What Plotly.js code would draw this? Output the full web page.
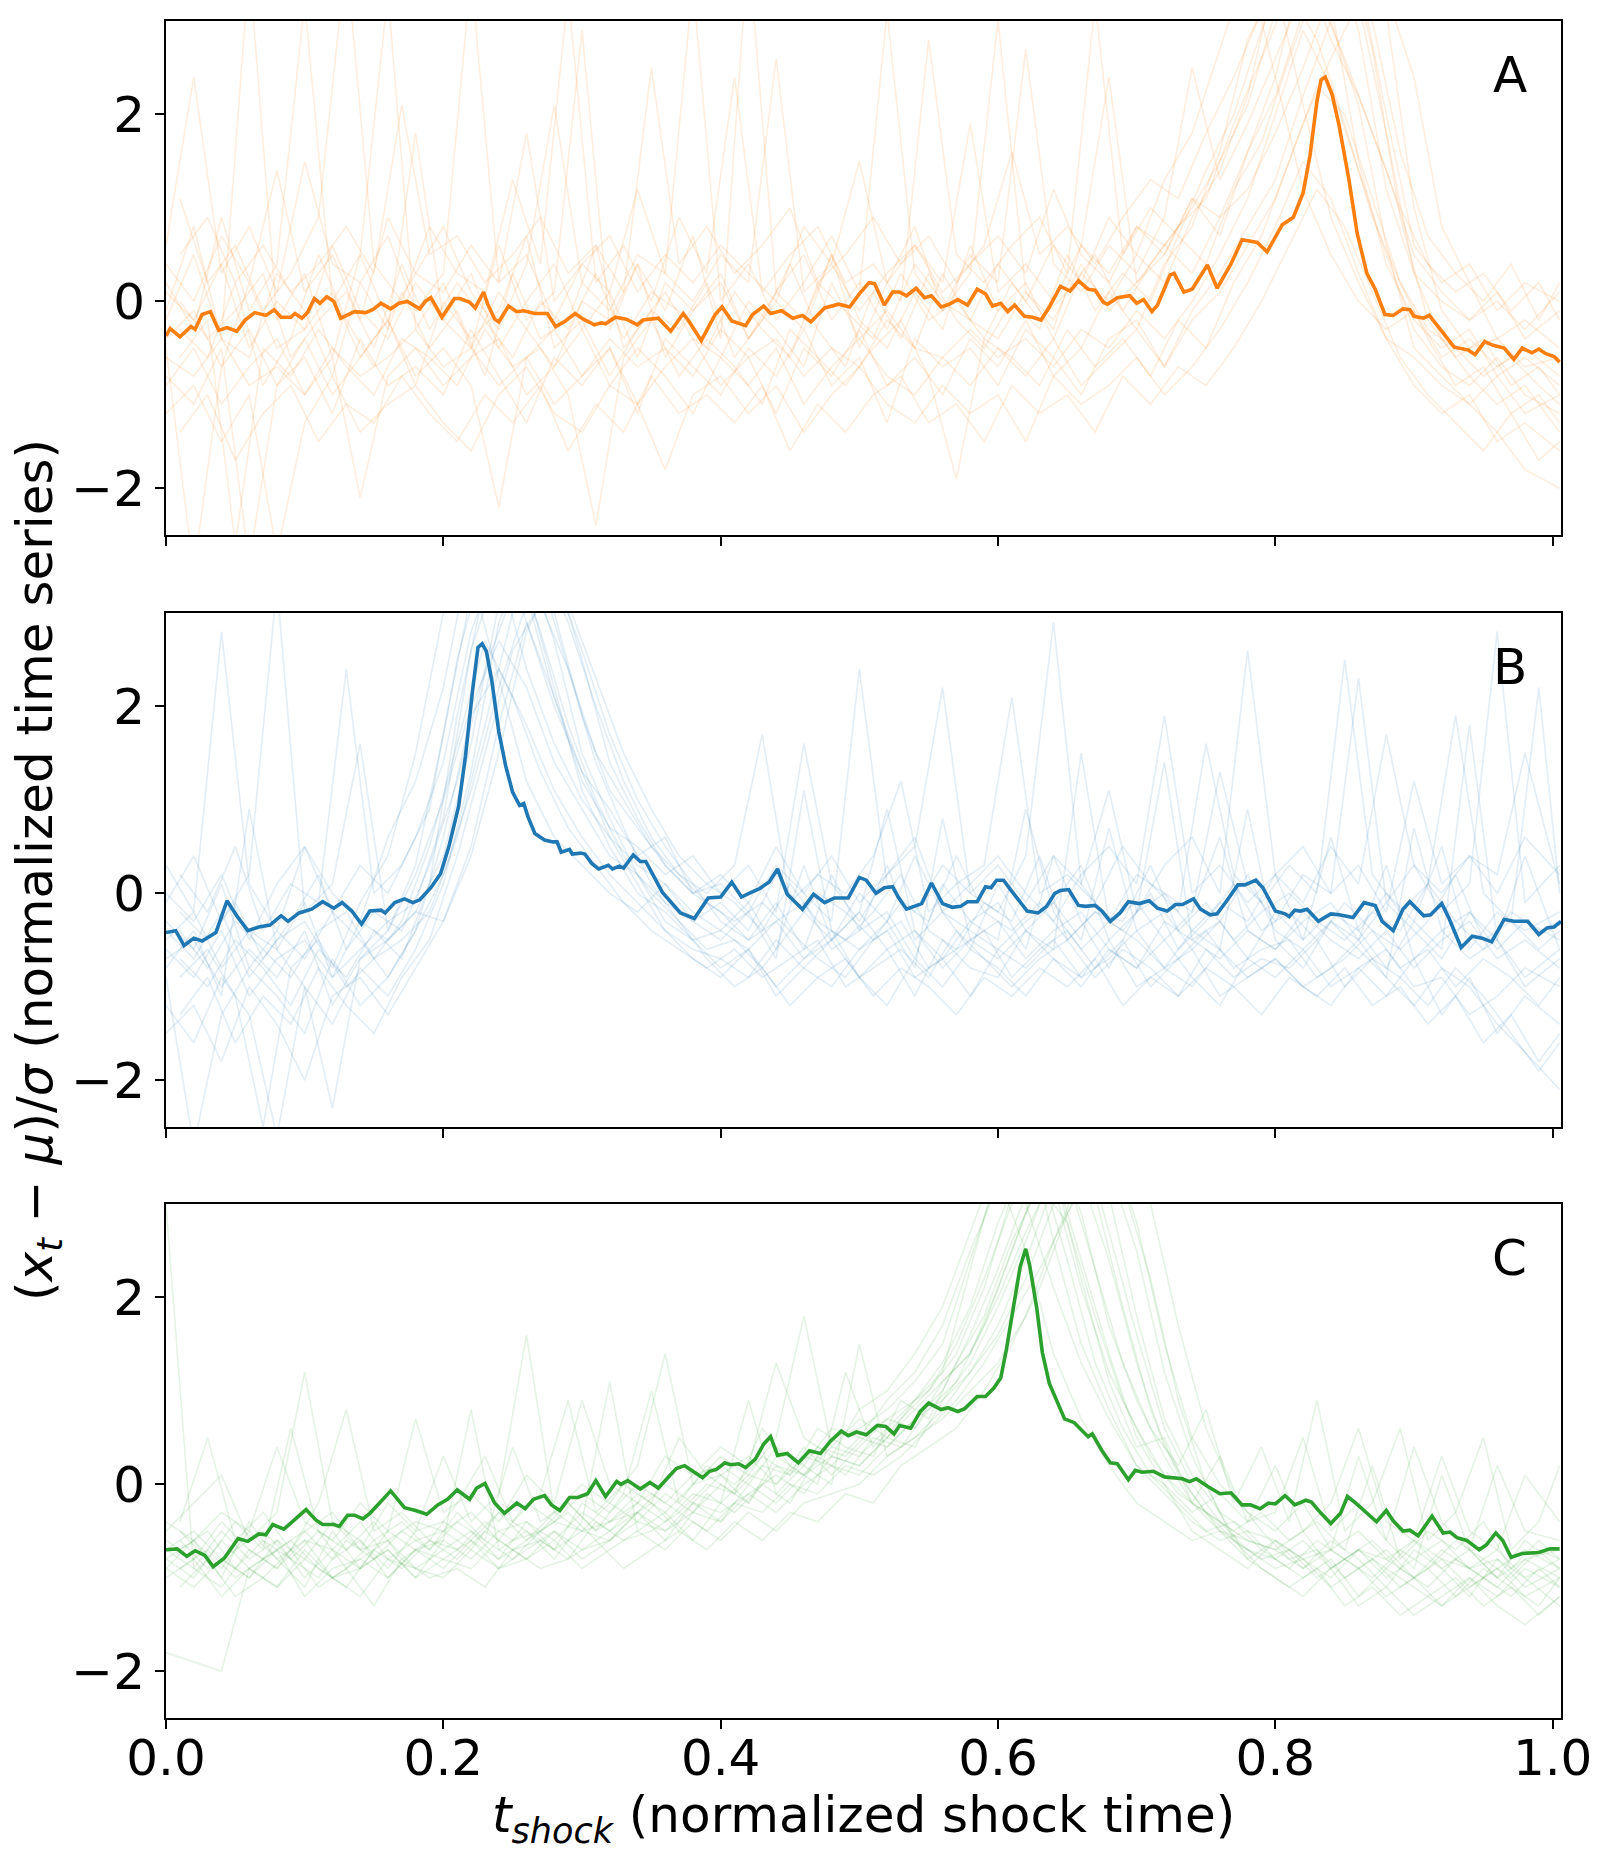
<!DOCTYPE html>
<html><head><meta charset="utf-8">
<script src="https://cdn.plot.ly/plotly-3.0.1.min.js"></script>
<style>html,body{margin:0;padding:0;background:#fff;} #chart{width:1610px;height:1860px;}</style>
</head><body><div id="chart"></div>
<script>
// ---------- data ----------
const tGrid = [0,0.02,0.04,0.06,0.08,0.1,0.12,0.14,0.16,0.18,0.2,0.22,0.24,0.26,0.28,0.3,0.32,0.34,0.36,0.38,0.4,0.42,0.44,0.46,0.48,0.5,0.52,0.54,0.56,0.58,0.6,0.62,0.64,0.66,0.68,0.7,0.72,0.74,0.76,0.78,0.8,0.82,0.84,0.86,0.88,0.9,0.92,0.94,0.96,0.98,1.005];
const tGrid2 = [0.01,0.03,0.05,0.07,0.09,0.11,0.13,0.15,0.17,0.19,0.21,0.23,0.25,0.27,0.29,0.31,0.33,0.35,0.37,0.39,0.41,0.43,0.45,0.47,0.49,0.51,0.53,0.55,0.57,0.59,0.61,0.63,0.65,0.67,0.69,0.71,0.73,0.75,0.77,0.79,0.81,0.83,0.85,0.87,0.89,0.91,0.93,0.95,0.97,0.99,1.005];
const xTickVals = [0,0.2,0.4,0.6,0.8,1.0];
const xTickText = ['0.0','0.2','0.4','0.6','0.8','1.0'];
const yTickVals = [-2,0,2];
const yTickText = ['\u22122','0','2'];
const panelLabels = ['A','B','C'];

// faint individual series, panel A (orange), sampled on tGrid
const fadedA = [
 [-0.2,0.5,-0.4,-0.6,0.3,-0.1,-0.8,0.2,-0.3,1.8, -0.2,-0.5,0.1,-0.3,-0.7,0.0,-0.2,0.4,-0.6,-0.1, 0.2,-0.4,0.0,-0.3,0.5,-0.2,-0.5,0.1,-0.3,0.6, -0.1,0.2,-0.4,0.3,0.0,0.5,0.2,0.9,1.4,2.2, 3.5,4.0,3.2,1.5,0.4,-0.2,-0.5,-0.3,-0.8,-0.6, -0.9],
 [-0.8,-1.1,-0.5,-2.8,-0.9,-0.6,-1.2,-0.4,-0.9,-0.7, -1.0,-0.3,-0.8,-1.3,-0.6,-0.9,-0.5,-1.1,-0.7,-0.4, -0.9,-0.6,-1.2,-0.5,-0.8,-0.3,-0.9,-0.6,-1.0,-0.4, -0.7,-0.2,-0.8,-0.5,0.1,-0.3,0.4,0.8,1.6,2.8, 3.4,2.1,0.9,0.2,-0.4,-0.6,-0.9,-1.1,-0.8,-1.2, -1.0],
 [0.6,2.4,0.3,0.8,0.1,1.5,0.4,0.2,0.7,-0.1, 0.3,3.5,0.2,0.5,-0.2,0.4,0.1,1.2,0.3,0.0, 0.5,0.2,2.6,0.1,0.4,-0.1,0.3,0.6,0.2,1.9, 0.1,0.4,0.0,0.6,0.3,0.8,0.5,1.1,0.9,1.6, 2.4,3.6,3.8,2.9,1.2,0.3,0.0,-0.2,0.1,-0.4, -0.1],
 [-0.4,-0.1,-0.7,0.2,-0.5,-0.3,0.1,-0.6,-0.2,-0.9, 0.0,-0.4,-0.1,0.7,-0.5,-0.2,-0.8,-0.3,0.1,-0.4, -0.6,0.0,-0.3,-0.7,0.2,-0.4,-0.1,-0.5,0.3,-0.2, -0.4,0.1,-0.2,0.4,-0.1,0.2,0.6,0.3,0.9,1.2, 1.8,2.5,3.3,3.9,3.1,1.0,-0.1,-0.5,-0.4,-0.7, -0.6],
 [-1.2,-0.9,-1.5,-1.0,-2.7,-1.3,-0.8,-1.4,-1.1,-0.9, -1.3,-1.6,-1.0,-0.7,-1.2,-1.4,-0.9,-1.1,-1.8,-1.0, -0.8,-1.2,-0.9,-1.4,-1.0,-0.7,-1.1,-1.3,-0.9,-1.2, -1.0,-1.5,-0.8,-1.1,-0.9,-0.6,-1.0,-0.7,-0.3,0.2, 0.8,1.5,1.1,0.3,-0.4,-0.9,-1.2,-1.0,-1.5,-1.3, -1.6],
 [0.2,-0.3,0.9,-0.1,0.4,3.2,0.0,0.5,-0.2,0.3, 0.8,0.1,-0.3,0.4,2.1,0.2,-0.1,0.5,0.3,3.4, 0.0,0.4,-0.2,0.2,0.7,0.1,3.1,0.3,-0.1,0.5, 0.2,2.7,0.4,0.1,0.6,0.3,0.9,2.5,1.3,1.9, 2.6,3.3,4.2,3.5,2.0,0.6,0.2,0.4,-0.1,0.2, 0.0],
 [-0.6,-0.8,-0.4,-0.9,-0.7,-1.0,-0.5,-0.8,-0.6,-0.3, -0.7,-0.5,-0.9,-0.6,-1.1,-0.8,-0.4,-0.7,-0.5,-0.8, -0.3,-0.6,-0.4,-0.8,-0.5,-0.7,-0.2,-0.5,-0.6,-0.3, -0.6,-0.4,-0.7,-0.3,-0.5,-0.1,-0.4,0.0,0.5,1.1, 2.0,2.9,2.3,1.4,0.5,-0.3,-0.7,-0.9,-0.6,-1.0, -1.2],
 [0.1,-0.2,0.4,-0.5,0.0,-0.3,0.6,-0.1,-0.4,0.2, -0.2,0.3,-0.5,0.0,0.4,-0.3,0.1,-0.6,0.2,-0.1, 0.3,-0.4,0.1,0.5,-0.2,0.2,-0.3,0.4,0.0,-0.2, 0.4,0.0,0.6,0.2,0.9,0.5,1.3,1.8,2.7,3.6, 2.4,1.2,0.5,0.0,-0.3,-0.1,-0.6,-0.4,-0.7,-0.5, -0.8],
 [-0.5,-2.9,-0.7,-0.3,-0.9,-0.4,-1.0,-0.6,-0.2,-0.8, -0.5,-0.9,-2.2,-0.6,-0.3,-0.8,-0.5,-1.2,-0.4,-0.7, -1.0,-0.5,-0.8,-0.3,-0.9,-0.6,-1.3,-0.4,-0.7,-0.5, -0.9,-0.3,-0.6,-1.0,-0.4,-0.2,-0.7,-0.1,0.3,0.8, 1.3,2.2,3.0,2.1,0.6,-0.5,-0.8,-1.1,-1.4,-1.8, -2.0],
 [0.4,0.0,0.7,0.2,1.4,0.1,0.5,-0.2,0.9,0.3, 0.1,0.6,0.2,1.8,0.0,0.4,0.7,0.1,0.5,0.2, 0.6,0.3,0.0,0.8,0.4,1.5,0.2,0.6,0.1,0.4, 0.7,0.3,1.2,0.5,0.2,0.8,0.6,1.0,1.5,2.1, 3.1,3.7,2.8,2.2,1.4,0.5,0.1,-0.2,0.0,-0.3, 0.1],
 [-0.9,-0.5,-1.1,-0.7,-0.4,-1.0,-0.6,-2.1,-0.8,-0.5, -0.9,-0.6,-0.4,-1.0,-0.7,-0.3,-0.9,-0.5,-0.8,-1.2, -0.6,-0.9,-0.5,-1.1,-0.7,-0.4,-0.8,-1.0,-0.6,-0.9, -0.5,-0.8,-0.4,-0.9,-0.6,-0.3,-0.7,-0.2,0.1,0.6, 1.1,1.9,2.6,3.2,1.8,0.3,-0.4,-0.8,-1.1,-0.9, -1.4],
 [-0.1,0.8,-0.4,3.6,-0.2,0.3,-0.6,0.5,3.3,-0.3, 0.2,-0.5,0.6,-0.2,0.1,2.9,-0.3,0.4,-0.1,0.7, -0.4,3.8,0.1,-0.2,0.5,-0.5,0.2,0.8,-0.1,0.3, 3.0,0.1,-0.3,0.6,2.4,0.2,0.5,1.1,0.7,1.6, 2.2,3.1,3.5,4.1,3.3,2.4,0.8,0.2,-0.4,-0.2, -0.5]
];
// panel A, more faint series sampled on tGrid2
const fadedA2 = [
 [-0.3,-0.6,0.2,-0.9,-0.4,0.5,-0.2,-0.7,0.1,-0.5, -0.1,-0.8,0.3,-0.4,-0.2,0.6,-0.5,-0.1,-0.3,0.2, -0.6,-0.2,0.4,-0.3,-0.7,0.1,-0.4,0.3,-0.2,-0.5, 0.0,-0.3,0.5,-0.1,0.3,0.0,0.7,0.4,1.2,1.7, 2.6,3.4,3.9,2.7,0.9,-0.2,-0.6,-0.4,-0.9,-0.7, -1.0],
 [1.1,0.2,0.6,-0.1,0.3,0.9,3.7,0.4,0.0,0.8, 0.3,0.1,1.3,0.4,3.3,0.2,0.6,0.0,0.9,0.3, 2.4,0.1,0.5,0.8,0.2,0.4,0.0,2.8,0.5,0.2, 0.6,0.9,0.3,3.2,0.5,1.0,0.7,1.4,2.0,2.9, 3.6,4.2,3.8,3.0,1.6,0.7,0.3,0.0,0.4,-0.2, 0.2],
 [-1.4,-1.0,-1.7,-1.2,-0.9,-1.5,-1.1,-1.3,-0.8,-1.2, -1.5,-1.0,-1.3,-0.9,-1.6,-1.1,-1.4,-0.8,-1.2,-1.0, -1.3,-0.9,-1.6,-1.1,-1.4,-1.0,-0.8,-1.3,-1.1,-1.5, -0.9,-1.2,-1.0,-1.4,-0.8,-1.1,-0.7,-0.9,-0.5,0.0, 0.6,1.2,0.8,0.1,-0.6,-1.0,-1.3,-1.6,-1.2,-1.7, -1.5],
 [0.0,-0.4,-0.1,0.3,-0.6,-0.2,0.1,-0.5,0.4,-0.3, 0.2,-0.2,-0.6,0.0,-0.3,0.3,-0.4,0.1,-0.1,-0.5, 0.1,-0.3,-0.6,0.2,-0.1,-0.4,0.3,-0.2,0.0,-0.4, 0.2,-0.2,0.1,0.5,-0.1,0.4,0.8,1.1,1.9,2.6, 3.3,2.8,1.9,0.9,0.2,-0.3,-0.5,-0.8,-0.6,-0.9, -1.1],
 [-0.6,-0.2,-2.6,-0.5,-0.8,-0.3,-0.7,-1.0,-0.4,-0.6, -0.9,-0.3,-0.7,-0.5,-1.0,-2.4,-0.6,-0.2,-0.8,-0.4, -0.7,-1.1,-0.3,-0.6,-0.9,-0.5,-0.2,-0.8,-1.9,-0.4, -0.6,-0.9,-0.3,-0.7,-0.4,-0.8,-0.2,-0.5,0.2,0.7, 1.5,2.3,2.0,1.1,0.2,-0.4,-0.9,-0.7,-1.2,-1.0, -1.3],
 [0.5,0.9,0.2,0.6,0.1,0.4,0.8,0.3,2.1,0.5, 0.7,0.2,0.5,0.9,0.3,0.6,0.1,2.5,0.4,0.8, 0.3,0.6,1.0,0.2,0.5,0.9,0.4,0.7,0.2,0.6, 1.6,0.5,0.8,0.4,0.9,1.3,1.1,1.8,2.4,3.1, 3.8,3.3,2.6,1.8,1.0,0.4,0.1,0.3,-0.1,0.2, -0.2]
];

// faint individual series, panel B (blue)
const fadedB = [
 [-0.6,-0.9,-0.4,-1.1,-0.7,-0.5,-0.9,-0.6,-0.3,-0.1, 0.8,2.6,3.5,2.4,1.6,1.0,0.6,0.3,0.1,-0.2, -0.4,-0.1,-0.6,0.3,-0.5,-0.2,0.9,-0.4,-0.7,-0.3, -0.1,-0.6,0.4,-0.3,-0.8,-0.2,1.4,-0.5,-0.3,-0.7, -0.2,-0.5,0.6,-0.4,-0.8,-0.3,-0.6,1.8,-0.5,-0.9, -0.6],
 [-1.2,-1.6,-0.9,-1.3,-2.6,-1.0,-1.4,-0.8,-1.1,-0.6, 0.1,1.3,2.9,3.6,2.7,1.5,0.8,0.2,-0.3,-0.5, -0.8,-0.6,-1.0,-0.7,-0.4,-0.9,-0.6,-1.1,-0.5,-0.8, -0.9,-0.4,-0.7,-1.0,-0.6,-0.8,-0.5,-0.9,-1.2,-0.7, -0.9,-0.6,-1.0,-0.8,-1.1,-0.7,-1.3,-0.9,-1.5,-1.1, -1.4],
 [0.3,-0.2,2.8,0.1,-0.4,0.5,0.0,-0.3,0.6,1.2, 2.2,3.7,4.0,3.2,2.1,1.2,0.7,0.5,0.2,0.4, 0.0,0.3,-0.2,1.6,0.1,-0.3,0.2,0.5,2.2,0.0, 0.3,-0.1,0.4,0.1,1.1,-0.2,0.3,0.6,0.0,2.6, 0.2,-0.1,0.5,0.1,1.7,0.3,0.0,0.4,0.2,1.5, 0.1],
 [-0.5,-0.2,-0.8,-0.4,-0.6,-0.1,-0.9,-0.3,-0.5,-0.2, -0.3,0.4,1.5,2.8,3.4,2.6,1.7,1.0,0.5,0.1, -0.3,-0.5,-0.1,-0.6,0.2,-0.4,-0.2,-0.7,0.1,-0.3, -0.5,0.9,-0.2,-0.6,-0.3,-0.1,-0.5,-0.2,0.6,-0.4, -0.6,-0.3,-0.1,-0.5,0.3,-0.7,-0.4,-0.2,-0.6,-0.3, -0.5],
 [-0.9,-2.7,-1.3,-0.8,-1.1,-1.5,-0.7,-1.2,-0.9,-0.4, 0.6,1.9,2.4,1.8,1.1,0.6,0.2,-0.1,-0.4,-0.6, -0.7,-0.9,-0.5,-0.8,-1.0,-0.6,-0.4,-0.9,-0.7,-1.1, -0.6,-0.8,-0.5,-0.9,-0.7,-0.4,-0.8,-1.0,-0.6,-0.9, -0.7,-1.0,-0.8,-0.5,-0.9,-1.2,-0.8,-1.0,-1.4,-1.7, -2.1],
 [-0.1,0.4,-0.3,0.2,3.3,-0.2,0.1,1.6,-0.4,0.3, 1.7,3.2,3.8,2.9,2.0,1.3,0.9,0.4,0.6,0.0, 0.2,-0.1,0.5,0.0,-0.3,2.4,0.1,-0.2,0.3,0.0, -0.2,0.4,2.9,0.1,-0.3,0.2,0.0,-0.2,1.3,0.1, -0.3,0.2,0.0,2.3,-0.1,0.3,-0.2,0.1,2.8,-0.1, 0.3],
 [-0.7,-0.5,-1.0,-0.6,-0.9,-0.4,-1.2,-0.7,-0.5,-0.2, 0.4,1.6,3.1,3.3,2.2,1.1,0.5,0.0,-0.2,-0.5, -0.4,-0.6,-0.3,-0.7,-0.5,-0.2,-0.6,-0.4,-0.8,-0.5, -0.3,-0.7,-0.4,-0.2,-0.6,-0.8,-0.3,-0.5,-0.7,-0.4, -0.6,-0.2,-0.5,-0.7,-0.4,-0.8,-0.5,-0.3,-0.7,-0.5, -0.8],
 [-0.4,-0.7,-0.2,-0.9,-0.5,-0.3,-0.8,-0.1,0.4,1.5, 3.0,3.4,2.3,1.2,0.6,0.3,0.0,-0.2,0.1,-0.3, -0.1,-0.4,0.2,-0.2,-0.5,0.0,-0.3,0.4,-0.2,-0.6, 0.1,-0.4,-0.1,0.3,-0.5,-0.2,0.0,-0.4,-0.1,-0.3, 0.2,-0.5,-0.2,-0.4,0.0,-0.3,0.5,-0.6,-0.2,-0.4, -0.2],
 [-1.5,-1.2,-1.8,-1.0,-1.4,-2.0,-1.1,-0.9,-1.3,-0.8, -0.3,0.5,1.8,2.9,2.1,1.3,0.6,0.1,-0.4,-0.7, -0.9,-0.6,-1.1,-0.8,-0.5,-0.9,-1.2,-0.7,-1.0,-0.6, -0.8,-1.1,-0.7,-0.9,-0.5,-1.0,-0.8,-0.6,-1.1,-0.9, -0.7,-1.0,-1.2,-0.8,-0.6,-1.0,-0.9,-1.3,-1.1,-0.8, -1.0],
 [0.0,-0.3,0.2,-0.5,0.1,0.5,-0.2,0.3,0.0,0.6, 1.4,2.8,3.6,3.9,3.0,1.9,1.1,0.7,0.3,0.0, 0.1,-0.2,0.3,0.0,0.4,-0.1,0.2,0.6,-0.2,0.1, 0.4,0.0,-0.3,0.2,0.5,0.1,1.9,0.0,0.3,-0.1, 0.2,0.5,0.0,0.3,-0.2,1.2,0.1,0.4,0.0,0.6, 0.2],
 [-0.3,-0.6,0.1,-0.8,-0.4,-0.7,-0.2,-0.5,-0.9,-0.4, 0.2,1.1,2.2,3.1,3.5,2.5,1.4,0.8,0.3,0.0, -0.2,-0.5,-0.3,-0.1,-0.6,-0.4,0.3,-0.5,-0.2,-0.4, -0.6,-0.3,-0.1,-0.5,0.7,-0.4,-0.2,-0.6,-0.3,0.2, -0.4,-0.6,-0.3,-0.5,-0.1,-0.4,-0.7,-0.2,-0.5,0.4, -0.6],
 [-0.8,-0.4,-1.1,0.9,-0.6,-1.0,-2.3,-0.7,-0.4,0.2, 1.0,2.0,2.7,2.2,1.4,0.9,0.4,0.2,-0.1,-0.3, -0.5,-0.2,-0.7,1.1,-0.4,-0.6,-0.3,-0.8,0.8,-0.5, -0.7,-0.4,-0.6,1.5,-0.3,-0.5,-0.8,-0.4,-0.6,0.9, -0.5,-0.8,-0.3,-0.6,-0.9,0.7,-0.4,-0.7,-0.5,-1.0, -0.7]
];
const fadedB2 = [
 [-0.7,-1.0,-0.5,-0.8,-1.2,-0.6,-0.9,-0.4,-0.7,0.1, 1.9,3.3,3.7,2.8,1.8,1.0,0.4,0.0,-0.3,-0.6, -0.5,-0.8,-0.4,-0.7,-0.9,-0.5,-0.3,-0.8,-0.6,-0.4, -0.9,-0.6,-0.4,-0.8,-0.5,-1.0,-0.7,-0.4,-0.8,-0.6, -0.5,-0.9,-0.7,-0.4,-0.8,-0.6,-1.0,-0.7,-0.9,-1.2, -0.9],
 [0.2,-0.2,0.5,-0.4,0.1,-0.1,2.4,0.0,0.3,0.9, 2.5,3.6,3.9,3.4,2.4,1.5,1.0,0.5,0.2,0.0, 0.3,1.7,-0.1,0.2,0.0,0.4,1.2,-0.2,0.1,0.3, 2.1,0.0,0.2,-0.1,0.5,0.1,-0.2,1.6,0.2,-0.1, 0.3,0.0,2.5,0.2,-0.2,0.1,1.9,0.0,-0.3,2.2, 0.0],
 [-1.3,-0.9,-1.6,-1.1,-1.4,-0.8,-1.2,-1.5,-0.9,-0.5, 0.4,1.5,2.6,3.1,2.4,1.4,0.7,0.1,-0.3,-0.7, -1.0,-0.8,-1.2,-0.9,-0.7,-1.1,-0.8,-1.0,-1.3,-0.9, -1.1,-0.8,-1.0,-0.7,-1.2,-0.9,-1.1,-0.8,-1.0,-1.3, -0.9,-1.1,-0.8,-1.2,-1.0,-1.4,-1.1,-1.6,-1.3,-1.8, -1.5],
 [-0.2,-0.5,-0.1,-0.7,-0.3,0.2,-0.6,-0.2,-0.4,0.3, 1.2,2.4,3.2,3.6,2.9,2.0,1.2,0.6,0.2,-0.1, -0.3,-0.1,-0.4,0.0,-0.2,-0.5,-0.1,-0.3,0.4,-0.2, -0.4,-0.1,-0.5,-0.2,-0.3,0.3,-0.4,-0.1,-0.5,-0.2, 0.0,-0.3,-0.5,-0.2,-0.4,0.1,-0.3,-0.6,-0.2,-0.4, -0.3],
 [-0.9,-0.6,-1.1,-2.5,-0.8,-0.5,-1.0,-0.7,-0.3,0.5, 1.6,2.7,2.1,1.3,0.7,0.3,-0.1,-0.4,-0.6,-0.8, -0.6,-0.9,-0.7,-0.5,-1.0,-0.8,-0.6,-0.9,-0.4,-0.7, -1.0,-0.7,-0.5,-0.9,-0.6,-0.8,-1.1,-0.6,-0.9,-0.7, -0.8,-0.5,-1.0,-0.7,-0.9,-1.2,-0.8,-1.1,-1.5,-1.9, -1.6],
 [-0.4,-0.8,-0.3,-0.6,-0.9,-0.4,-0.2,-0.7,-0.5,-0.2, 0.6,1.8,3.0,3.4,3.1,2.3,1.5,0.9,0.4,0.1, -0.1,-0.4,0.1,-0.3,-0.5,-0.2,0.2,-0.4,-0.6,-0.1, -0.3,0.4,-0.5,-0.2,-0.4,0.0,-0.6,-0.3,0.1,-0.4, -0.2,-0.5,-0.1,-0.4,-0.6,-0.3,0.2,-0.5,-0.3,-0.6, -0.4]
];

// faint individual series, panel C (green)
const fadedC = [
 [-0.7,-0.9,-0.5,-0.8,-0.6,-1.0,-0.7,-0.4,-0.8,-0.6, -0.5,-0.7,-0.3,-0.6,-0.4,-0.5,-0.2,-0.4,-0.1,-0.3, 0.0,-0.2,0.2,0.1,0.4,0.3,0.6,0.9,1.3,1.9, 2.8,3.5,3.2,2.1,1.2,0.6,0.1,-0.2,-0.4,-0.6, -0.7,-0.5,-0.9,-0.7,-0.8,-1.0,-0.7,-0.9,-0.8,-1.1, -0.9],
 [-0.9,-1.1,-0.8,-1.0,-0.7,-1.2,-0.9,-0.8,-1.0,-0.7, -0.8,-0.6,-0.9,-0.7,-0.5,-0.8,-0.6,-0.4,-0.5,-0.3, -0.4,-0.1,-0.3,0.0,0.2,0.1,0.4,0.7,1.0,1.6, 2.3,3.1,3.6,3.3,2.4,1.3,0.4,-0.1,-0.5,-0.7, -0.9,-0.8,-1.1,-0.9,-1.2,-1.0,-1.3,-1.1,-0.9,-1.2, -1.0],
 [-0.5,-0.2,0.1,-0.6,-0.3,1.2,-0.4,-0.7,-0.2,-0.5, 0.3,-0.4,-0.1,1.6,-0.3,0.0,-0.2,0.2,1.4,0.0, 0.3,0.1,0.5,1.8,0.4,0.7,0.5,0.9,1.2,2.3, 3.4,3.9,2.6,1.5,0.8,0.2,0.0,-0.3,-0.1,-0.4, 0.2,-0.5,-0.2,0.6,-0.4,-0.6,0.3,-0.5,-0.7,0.1, -0.4],
 [-0.8,-0.6,-0.9,-0.5,-0.8,-0.6,-0.7,-0.9,-0.5,-0.7, -0.6,-0.8,-0.5,-0.4,-0.6,-0.3,-0.5,-0.2,-0.4,-0.1, -0.2,0.1,0.0,0.3,0.2,0.5,0.4,0.7,0.9,1.2, 1.6,2.2,3.0,3.6,3.1,1.8,0.7,0.1,-0.3,-0.5, -0.6,-0.8,-0.7,-0.9,-0.7,-1.0,-0.8,-0.9,-1.1,-0.8, -1.0],
 [3.0,-0.9,-1.1,-0.7,-0.9,-0.6,-1.0,-0.8,-0.6,-0.9, -0.7,-0.5,-0.8,-0.6,-0.3,-0.5,-0.4,-0.1,-0.3,0.0, 0.1,-0.2,0.3,0.1,0.5,0.6,0.8,1.1,1.5,2.4, 3.3,2.5,1.4,0.7,0.2,-0.2,-0.4,-0.6,-0.5,-0.8, -0.6,-0.9,-0.7,-0.5,-0.8,-0.6,-0.9,-0.7,-1.0,-0.8, -0.7],
 [-1.8,-1.9,-2.0,-0.9,-1.1,-0.8,-1.0,-0.9,-0.7,-1.0, -0.8,-0.9,-0.6,-0.8,-0.5,-0.7,-0.6,-0.3,-0.5,-0.2, -0.4,0.0,-0.2,0.1,0.3,0.2,0.5,0.8,1.1,1.4, 2.0,2.7,3.3,3.8,2.7,1.6,0.6,0.0,-0.4,-0.7, -0.8,-1.0,-0.8,-1.2,-0.9,-1.1,-1.3,-1.0,-1.2,-0.9, -1.1],
 [-0.4,-0.6,-0.3,-0.5,0.4,-0.4,-0.6,-0.2,-0.5,0.7, -0.3,-0.1,-0.4,0.1,-0.2,0.9,0.0,-0.2,0.3,0.1, 0.4,0.2,1.3,0.5,0.3,0.8,1.0,1.4,1.9,2.7, 3.5,3.8,3.4,2.2,1.1,0.4,0.5,-0.2,0.3,-0.4, -0.3,0.5,-0.5,-0.2,-0.6,0.4,-0.4,-0.7,0.2,-0.5, -0.6],
 [-1.0,-0.8,-1.2,-0.9,-1.1,-0.7,-1.0,-1.2,-0.8,-0.9, -1.0,-0.7,-0.9,-0.8,-0.6,-0.9,-0.7,-0.5,-0.7,-0.4, -0.6,-0.3,-0.5,-0.2,-0.1,0.0,0.3,0.5,0.8,1.2, 1.7,2.4,3.2,3.5,3.4,2.5,1.2,0.3,-0.3,-0.8, -1.0,-1.2,-0.9,-1.3,-1.1,-1.4,-1.2,-1.0,-1.3,-1.5, -1.2],
 [-0.6,-0.8,-0.4,-0.7,-0.9,-0.5,-0.3,-0.7,-0.6,-0.4, -0.5,-0.3,-0.6,-0.2,-0.4,-0.1,-0.3,0.0,-0.2,0.1, 0.2,0.0,0.4,0.2,0.6,0.5,0.9,1.2,1.7,2.5, 3.2,3.0,2.1,1.3,0.7,0.2,-0.1,-0.4,-0.6,-0.5, -0.8,-0.6,-0.9,-0.7,-1.0,-0.8,-0.6,-0.9,-0.7,-1.0, -0.8],
 [-0.9,-0.6,-1.0,-0.4,-0.8,-1.1,-0.5,-0.9,-0.7,-1.0, -0.6,0.8,-0.7,-0.5,-0.8,-0.4,1.1,-0.5,-0.3,-0.6, -0.2,0.9,-0.1,0.2,0.0,1.5,0.3,0.5,0.7,1.0, 1.3,1.8,2.6,3.3,3.7,2.8,1.5,0.5,0.0,-0.3, -0.5,-0.2,-0.7,0.3,-0.6,-0.9,0.1,-0.7,-1.0,-0.6, -0.9],
 [-0.7,-0.5,-0.8,-1.0,-0.6,-0.8,-0.4,-0.6,-0.9,-0.5, -0.4,-0.6,-0.3,-0.5,-0.7,-0.2,-0.4,-0.3,0.0,-0.2, 0.1,0.3,0.0,0.4,0.1,0.4,0.7,0.6,1.1,1.4, 2.1,2.9,3.7,2.9,1.7,0.9,0.3,-0.2,-0.5,-0.6, -0.7,-0.9,-0.6,-0.8,-1.1,-0.7,-0.9,-1.2,-0.8,-1.0, -1.3],
 [-0.8,-1.0,-0.6,-0.9,-0.7,-0.5,-0.8,-0.6,-1.0,-0.7, -0.9,-0.6,-0.8,-0.4,-0.7,-0.5,-0.6,-0.3,-0.6,-0.2, -0.3,-0.1,0.1,-0.1,0.3,0.2,0.5,0.4,0.9,1.3, 1.9,2.6,3.4,2.4,1.4,0.5,0.0,-0.5,-0.7,-0.9, -0.6,-0.8,-1.0,-0.7,-0.9,-0.6,-0.8,-1.1,-0.9,-0.7, -0.9]
];
const fadedC2 = [
 [-0.6,-0.9,-0.7,-0.5,-0.8,-1.0,-0.6,-0.8,-0.5,-0.7, -0.4,-0.6,-0.8,-0.5,-0.3,-0.6,-0.4,-0.2,-0.5,-0.1, -0.3,0.0,-0.2,0.3,0.1,0.5,0.4,0.8,1.1,1.7, 2.5,3.3,3.7,3.1,1.9,0.8,0.1,-0.3,-0.6,-0.8, -0.7,-1.0,-0.8,-0.6,-0.9,-1.1,-0.8,-1.0,-1.2,-0.9, -1.1],
 [-0.4,0.5,-0.6,-0.3,-0.7,-0.2,0.8,-0.5,-0.3,-0.6, -0.2,0.3,-0.4,-0.1,0.9,-0.3,0.0,-0.2,0.5,0.1, -0.1,0.6,0.2,0.0,1.2,0.4,0.7,1.0,1.5,2.2, 3.0,3.6,3.3,2.3,1.3,0.6,0.2,0.8,-0.2,0.4, -0.4,0.9,-0.5,-0.2,0.6,-0.6,-0.3,0.5,-0.7,-0.4, 0.2],
 [-1.1,-0.8,-1.2,-1.0,-0.7,-1.1,-0.9,-1.3,-0.8,-1.0, -0.9,-1.1,-0.7,-0.9,-0.8,-0.6,-0.9,-0.7,-0.5,-0.7, -0.4,-0.6,-0.3,-0.4,-0.1,-0.2,0.2,0.4,0.6,1.0, 1.5,2.1,2.9,3.4,3.2,2.2,0.9,0.0,-0.6,-0.9, -1.1,-0.9,-1.3,-1.1,-1.4,-1.2,-1.0,-1.3,-1.1,-1.4, -1.2],
 [-0.7,-0.5,-0.9,-0.6,-0.8,-0.5,-0.7,-0.4,-0.8,-0.6, -0.7,-0.4,-0.6,-0.5,-0.2,-0.5,-0.3,-0.1,-0.3,0.0, -0.1,0.2,0.1,0.4,0.3,0.6,0.8,1.0,1.4,2.1, 3.1,3.4,2.4,1.3,0.6,0.1,-0.2,-0.5,-0.4,-0.7, -0.9,-0.6,-0.8,-1.0,-0.7,-0.9,-0.6,-0.8,-1.0,-0.7, -0.8],
 [-0.9,-0.7,-1.0,-0.8,-0.6,-0.9,-1.1,-0.7,-0.9,-0.6, -0.8,-0.5,-0.7,-0.6,-0.8,-0.4,-0.6,-0.5,-0.3,-0.5, -0.2,-0.3,0.0,-0.1,0.2,0.1,0.3,0.6,0.9,1.3, 1.8,2.3,2.9,3.5,3.8,3.0,1.7,0.6,-0.1,-0.5, -0.8,-0.7,-1.0,-0.8,-1.1,-0.9,-1.2,-0.9,-1.1,-1.3, -1.0],
 [-0.5,-0.8,-0.4,-0.7,0.6,-0.5,-0.9,-0.6,-0.4,-0.7, -0.3,-0.6,0.4,-0.4,-0.2,-0.5,-0.1,1.0,-0.2,0.2, 0.0,0.3,0.1,0.6,0.4,0.3,0.9,0.7,1.3,1.8, 2.6,3.2,2.8,1.8,0.9,0.3,-0.1,-0.3,-0.5,-0.3, -0.6,-0.4,-0.7,0.2,-0.8,-0.5,-0.7,-0.4,-0.9,-0.6, -0.8]
];

// averaged series (bold), as [t, value] readings
const meanA = [[0.000,-0.37],[0.003,-0.29],[0.010,-0.38],[0.018,-0.27],[0.021,-0.30],[0.026,-0.14],[0.032,-0.11],[0.038,-0.31],[0.044,-0.28],[0.047,-0.30],[0.051,-0.32],[0.057,-0.20],[0.064,-0.12],[0.072,-0.15],[0.078,-0.09],[0.083,-0.17],[0.090,-0.17],[0.093,-0.13],[0.098,-0.18],[0.102,-0.12],[0.107,0.03],[0.111,-0.02],[0.116,0.05],[0.121,0.00],[0.126,-0.18],[0.136,-0.11],[0.144,-0.12],[0.149,-0.09],[0.155,-0.02],[0.162,-0.08],[0.168,-0.02],[0.174,0.00],[0.183,-0.08],[0.187,0.00],[0.191,0.04],[0.199,-0.17],[0.208,0.03],[0.212,0.03],[0.219,-0.01],[0.223,-0.07],[0.229,0.10],[0.232,-0.03],[0.237,-0.19],[0.240,-0.22],[0.247,-0.05],[0.253,-0.11],[0.258,-0.10],[0.266,-0.13],[0.275,-0.13],[0.281,-0.27],[0.288,-0.21],[0.295,-0.13],[0.301,-0.19],[0.309,-0.25],[0.314,-0.23],[0.317,-0.24],[0.324,-0.17],[0.332,-0.19],[0.340,-0.25],[0.344,-0.20],[0.355,-0.18],[0.364,-0.32],[0.373,-0.13],[0.377,-0.21],[0.386,-0.42],[0.396,-0.14],[0.401,-0.06],[0.408,-0.21],[0.418,-0.26],[0.423,-0.14],[0.431,-0.05],[0.436,-0.13],[0.444,-0.10],[0.452,-0.18],[0.459,-0.15],[0.465,-0.22],[0.475,-0.07],[0.485,-0.03],[0.493,-0.06],[0.500,0.08],[0.507,0.20],[0.511,0.19],[0.518,-0.04],[0.524,0.10],[0.529,0.10],[0.534,0.06],[0.541,0.14],[0.547,0.04],[0.552,0.06],[0.559,-0.06],[0.565,-0.03],[0.571,0.02],[0.578,-0.04],[0.585,0.13],[0.591,0.08],[0.596,-0.05],[0.602,-0.02],[0.607,-0.11],[0.612,-0.04],[0.619,-0.16],[0.625,-0.17],[0.631,-0.20],[0.637,-0.06],[0.645,0.16],[0.652,0.11],[0.658,0.22],[0.665,0.13],[0.670,0.12],[0.676,-0.01],[0.679,-0.03],[0.686,0.04],[0.695,0.06],[0.700,-0.02],[0.705,0.02],[0.711,-0.11],[0.715,-0.04],[0.724,0.28],[0.727,0.30],[0.734,0.10],[0.740,0.13],[0.751,0.39],[0.758,0.14],[0.768,0.40],[0.776,0.66],[0.787,0.63],[0.794,0.53],[0.805,0.82],[0.813,0.90],[0.820,1.16],[0.825,1.56],[0.830,2.14],[0.833,2.37],[0.836,2.40],[0.841,2.21],[0.846,1.88],[0.853,1.31],[0.859,0.73],[0.866,0.30],[0.872,0.13],[0.879,-0.14],[0.885,-0.15],[0.892,-0.08],[0.897,-0.09],[0.900,-0.16],[0.907,-0.18],[0.911,-0.15],[0.918,-0.28],[0.925,-0.42],[0.929,-0.49],[0.939,-0.52],[0.944,-0.57],[0.951,-0.43],[0.957,-0.47],[0.965,-0.50],[0.972,-0.62],[0.978,-0.50],[0.985,-0.55],[0.990,-0.51],[0.995,-0.56],[1.001,-0.59],[1.005,-0.65]];

const meanB = [[0.000,-0.42],[0.007,-0.40],[0.013,-0.56],[0.020,-0.48],[0.026,-0.51],[0.031,-0.47],[0.036,-0.42],[0.044,-0.08],[0.051,-0.24],[0.059,-0.40],[0.067,-0.36],[0.075,-0.34],[0.083,-0.24],[0.088,-0.30],[0.096,-0.21],[0.105,-0.17],[0.113,-0.09],[0.121,-0.16],[0.127,-0.10],[0.134,-0.19],[0.141,-0.33],[0.147,-0.19],[0.155,-0.18],[0.158,-0.21],[0.165,-0.10],[0.172,-0.06],[0.178,-0.10],[0.183,-0.07],[0.191,0.06],[0.198,0.21],[0.204,0.50],[0.211,0.93],[0.216,1.47],[0.221,2.16],[0.225,2.63],[0.228,2.67],[0.231,2.59],[0.235,2.27],[0.240,1.73],[0.245,1.36],[0.250,1.08],[0.255,0.94],[0.258,0.96],[0.261,0.82],[0.266,0.64],[0.273,0.57],[0.279,0.55],[0.282,0.55],[0.285,0.44],[0.291,0.47],[0.293,0.42],[0.299,0.43],[0.302,0.42],[0.307,0.32],[0.312,0.26],[0.319,0.30],[0.322,0.26],[0.327,0.29],[0.330,0.27],[0.337,0.41],[0.342,0.34],[0.346,0.34],[0.351,0.21],[0.358,0.01],[0.371,-0.21],[0.381,-0.27],[0.391,-0.05],[0.400,-0.04],[0.408,0.12],[0.415,-0.04],[0.422,0.01],[0.428,0.05],[0.435,0.12],[0.441,0.26],[0.448,-0.01],[0.459,-0.17],[0.467,-0.01],[0.475,-0.10],[0.482,-0.05],[0.492,-0.05],[0.500,0.17],[0.505,0.14],[0.512,0.00],[0.518,0.06],[0.524,0.07],[0.528,-0.04],[0.534,-0.17],[0.541,-0.13],[0.545,-0.11],[0.552,0.11],[0.560,-0.11],[0.567,-0.15],[0.573,-0.14],[0.578,-0.09],[0.585,-0.09],[0.591,0.07],[0.595,0.06],[0.599,0.14],[0.604,0.14],[0.609,0.04],[0.621,-0.19],[0.629,-0.21],[0.635,-0.14],[0.641,0.00],[0.645,0.03],[0.651,0.04],[0.658,-0.13],[0.663,-0.14],[0.670,-0.13],[0.675,-0.19],[0.681,-0.30],[0.688,-0.21],[0.694,-0.09],[0.702,-0.11],[0.709,-0.08],[0.715,-0.16],[0.722,-0.19],[0.728,-0.12],[0.733,-0.12],[0.741,-0.06],[0.746,-0.17],[0.753,-0.23],[0.758,-0.22],[0.765,-0.08],[0.773,0.09],[0.778,0.09],[0.786,0.14],[0.791,0.06],[0.800,-0.19],[0.807,-0.22],[0.810,-0.25],[0.814,-0.18],[0.818,-0.19],[0.823,-0.17],[0.826,-0.22],[0.831,-0.30],[0.840,-0.22],[0.846,-0.23],[0.856,-0.26],[0.864,-0.10],[0.872,-0.13],[0.877,-0.30],[0.885,-0.40],[0.892,-0.17],[0.897,-0.09],[0.902,-0.17],[0.907,-0.24],[0.912,-0.23],[0.920,-0.11],[0.925,-0.26],[0.934,-0.58],[0.942,-0.46],[0.949,-0.48],[0.956,-0.52],[0.965,-0.28],[0.972,-0.30],[0.982,-0.30],[0.990,-0.44],[0.996,-0.37],[1.001,-0.36],[1.006,-0.30]];

const meanC = [[0.000,-0.70],[0.008,-0.69],[0.015,-0.77],[0.021,-0.71],[0.028,-0.76],[0.034,-0.88],[0.042,-0.79],[0.052,-0.58],[0.059,-0.61],[0.067,-0.53],[0.072,-0.54],[0.077,-0.43],[0.085,-0.48],[0.093,-0.38],[0.101,-0.27],[0.108,-0.38],[0.113,-0.43],[0.121,-0.43],[0.125,-0.45],[0.131,-0.33],[0.136,-0.33],[0.142,-0.37],[0.147,-0.31],[0.154,-0.20],[0.162,-0.07],[0.172,-0.25],[0.180,-0.28],[0.188,-0.32],[0.196,-0.22],[0.203,-0.16],[0.210,-0.06],[0.219,-0.16],[0.224,-0.04],[0.230,0.01],[0.237,-0.20],[0.244,-0.31],[0.253,-0.20],[0.259,-0.26],[0.265,-0.16],[0.273,-0.12],[0.278,-0.22],[0.284,-0.28],[0.291,-0.14],[0.297,-0.14],[0.304,-0.10],[0.310,0.04],[0.317,-0.13],[0.325,0.03],[0.328,0.00],[0.333,0.04],[0.342,-0.05],[0.349,0.02],[0.355,-0.04],[0.363,0.09],[0.368,0.17],[0.374,0.20],[0.381,0.13],[0.387,0.07],[0.392,0.14],[0.397,0.16],[0.403,0.23],[0.407,0.21],[0.413,0.22],[0.418,0.18],[0.425,0.27],[0.431,0.43],[0.436,0.51],[0.441,0.31],[0.448,0.33],[0.456,0.23],[0.464,0.36],[0.472,0.33],[0.479,0.46],[0.487,0.57],[0.492,0.52],[0.498,0.56],[0.505,0.53],[0.513,0.63],[0.519,0.62],[0.525,0.54],[0.529,0.63],[0.537,0.60],[0.544,0.78],[0.550,0.87],[0.559,0.80],[0.564,0.82],[0.571,0.78],[0.576,0.81],[0.585,0.94],[0.591,0.94],[0.597,1.03],[0.602,1.14],[0.606,1.44],[0.611,1.91],[0.616,2.33],[0.620,2.52],[0.623,2.33],[0.628,1.88],[0.632,1.41],[0.637,1.08],[0.642,0.90],[0.648,0.70],[0.655,0.66],[0.660,0.58],[0.665,0.51],[0.668,0.54],[0.675,0.36],[0.681,0.23],[0.686,0.22],[0.694,0.05],[0.699,0.15],[0.704,0.13],[0.712,0.14],[0.720,0.08],[0.727,0.07],[0.733,0.06],[0.738,0.03],[0.743,0.06],[0.751,-0.02],[0.760,-0.10],[0.768,-0.09],[0.776,-0.22],[0.782,-0.22],[0.789,-0.26],[0.795,-0.20],[0.800,-0.21],[0.807,-0.12],[0.814,-0.22],[0.822,-0.17],[0.826,-0.19],[0.833,-0.31],[0.840,-0.42],[0.847,-0.31],[0.852,-0.13],[0.858,-0.20],[0.866,-0.30],[0.873,-0.40],[0.880,-0.28],[0.885,-0.39],[0.892,-0.50],[0.897,-0.49],[0.903,-0.55],[0.913,-0.34],[0.921,-0.52],[0.926,-0.51],[0.931,-0.57],[0.938,-0.60],[0.947,-0.70],[0.952,-0.65],[0.959,-0.52],[0.964,-0.60],[0.970,-0.78],[0.978,-0.74],[0.990,-0.73],[0.998,-0.69],[1.005,-0.69]];

// ---------- build ----------
const FONT = 'DejaVu Sans, Verdana, sans-serif';
const panels = [
  {faded: fadedA, faded2: fadedA2, mean: meanA, color: '#ff7f0e', faint: 'rgba(255,127,14,0.14)', xa: 'x',  ya: 'y'},
  {faded: fadedB, faded2: fadedB2, mean: meanB, color: '#1f77b4', faint: 'rgba(31,119,180,0.13)', xa: 'x2', ya: 'y2'},
  {faded: fadedC, faded2: fadedC2, mean: meanC, color: '#2ca02c', faint: 'rgba(44,160,44,0.12)', xa: 'x3', ya: 'y3'}
];
const traces = [];
panels.forEach(p => {
  const add = (grid, row) => traces.push({
    type: 'scatter', mode: 'lines', x: grid, y: row, xaxis: p.xa, yaxis: p.ya,
    line: {color: p.faint, width: 1.6}, hoverinfo: 'skip', showlegend: false
  });
  p.faded.forEach(row => add(tGrid, row));
  p.faded2.forEach(row => add(tGrid2, row));
});
panels.forEach(p => {
  traces.push({
    type: 'scatter', mode: 'lines', x: p.mean.map(d => d[0]), y: p.mean.map(d => d[1]),
    xaxis: p.xa, yaxis: p.ya, line: {color: p.color, width: 3.6}, showlegend: false
  });
});

const axBase = {
  showline: true, mirror: true, linecolor: '#000', linewidth: 2,
  ticks: 'outside', ticklen: 9, tickwidth: 2, tickcolor: '#000',
  showgrid: false, zeroline: false,
  tickfont: {family: FONT, size: 50, color: '#000'}
};
function xAx(anchor, labels) {
  return Object.assign({}, axBase, {domain: [0, 1], anchor: anchor, range: [0, 1.006],
    tickmode: 'array', tickvals: xTickVals, ticktext: xTickText, showticklabels: labels,
    ticklabelstandoff: -14});
}
function yAx(anchor, dom) {
  return Object.assign({}, axBase, {domain: dom, anchor: anchor, range: [-2.5, 3],
    tickmode: 'array', tickvals: yTickVals, ticktext: yTickText});
}
const annotations = panelLabels.map((t, i) => ({
  text: t, xref: ['x','x2','x3'][i], yref: ['y','y2','y3'][i], x: 0.969, y: 2.42,
  xanchor: 'center', yanchor: 'middle', showarrow: false,
  font: {family: FONT, size: 50, color: '#000'}
}));
annotations.push({
  text: '<i>t</i><sub><i>shock</i></sub> (normalized shock time)',
  xref: 'paper', yref: 'paper', x: 0.5, y: -0.059, xanchor: 'center', yanchor: 'middle',
  showarrow: false, font: {family: FONT, size: 50, color: '#000'}
});
annotations.push({
  text: '(<i>x</i><sub><i>t</i></sub> \u2212 <i>\u03bc</i>)/<i>\u03c3</i> (normalized time series)',
  xref: 'paper', yref: 'paper', x: -0.0918, y: 0.4997, xanchor: 'center', yanchor: 'middle',
  textangle: -90, showarrow: false, font: {family: FONT, size: 50, color: '#000'}
});

const layout = {
  width: 1610, height: 1860,
  margin: {l: 166, r: 49, t: 21, b: 142},
  paper_bgcolor: '#fff', plot_bgcolor: '#fff',
  showlegend: false,
  font: {family: FONT, color: '#000'},
  xaxis: xAx('y', false),
  xaxis2: xAx('y2', false),
  xaxis3: xAx('y3', true),
  yaxis: yAx('x', [0.6971, 1]),
  yaxis2: yAx('x2', [0.3483, 0.6512]),
  yaxis3: yAx('x3', [0, 0.3029]),
  annotations: annotations
};
Plotly.newPlot('chart', traces, layout, {staticPlot: true, displayModeBar: false});
</script></body></html>
